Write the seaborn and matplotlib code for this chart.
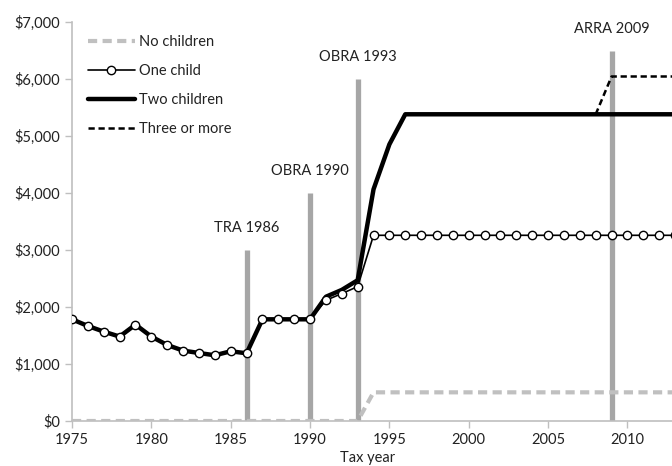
import matplotlib
matplotlib.use("Agg")
import matplotlib.pyplot as plt
import seaborn as sns
import pandas as pd
import numpy as np

sns.set_theme(style="white")
plt.rcParams['font.family'] = ['Lato', 'DejaVu Sans']

years_early = list(range(1975, 1994))
one_early = [1784, 1667, 1568, 1481, 1691, 1481, 1333, 1235, 1193, 1153, 1223, 1188,
             1784, 1784, 1784, 1784, 2118, 2235, 2358]
two_early = [1784, 1667, 1568, 1481, 1691, 1481, 1333, 1235, 1193, 1153, 1223, 1188,
             1784, 1784, 1784, 1784, 2180, 2300, 2470]

years_late = list(range(1994, 2014))
one_late = [3258] * 20
two_late = [4065, 4854] + [5381] * 18

years = years_early + years_late
one_child = one_early + one_late
two_children = two_early + two_late

no_years = years
no_children = [0] * 19 + [503] * 20

three_years = list(range(2008, 2014))
three_more = [5381, 6044, 6044, 6044, 6044, 6044]

events = ["TRA 1986", "OBRA 1990", "OBRA 1993", "ARRA 2009"]
event_years = [1986, 1990, 1993, 2009]
event_tops = [3000, 4000, 6000, 6500]

yticks = [0, 1000, 2000, 3000, 4000, 5000, 6000, 7000]
xticks = [1975, 1980, 1985, 1990, 1995, 2000, 2005, 2010]

fig = plt.figure(figsize=(6.72, 4.66), dpi=100)
ax = fig.add_axes([72/672, 45/466, 1 - 72/672, (421-22)/466])

txt = '#222222'
grey = '#a6a6a6'
fs = 10.5

df_no = pd.DataFrame({"year": no_years, "val": no_children})
df_one = pd.DataFrame({"year": years, "val": one_child})
df_two = pd.DataFrame({"year": years, "val": two_children})
df_three = pd.DataFrame({"year": three_years, "val": three_more})

for yr, top in zip(event_years, event_tops):
    ax.vlines(yr, 0, top, color=grey, lw=3.8, zorder=2)

sns.lineplot(data=df_no, x="year", y="val", ax=ax, color='#c0c0c0', lw=3,
             dashes=False, linestyle=(0, (2.2, 1.3)), label="No children", zorder=3)
sns.lineplot(data=df_two, x="year", y="val", ax=ax, color='black', lw=3.2,
             label="Two children", zorder=4)
sns.lineplot(data=df_one, x="year", y="val", ax=ax, color='black', lw=1.2,
             marker='o', markersize=6, markerfacecolor='white',
             markeredgecolor='black', markeredgewidth=1.0, label="One child", zorder=5)
sns.lineplot(data=df_three, x="year", y="val", ax=ax, color='black', lw=1.8,
             linestyle=(0, (2.5, 1.5)), label="Three or more", zorder=4)

for name, yr, top in zip(events, event_years, event_tops):
    ax.text(yr, top + 380, name, ha='center', va='center', fontsize=fs, color=txt)

ax.set_xlim(1975, 1975 + 600/15.87)
ax.set_ylim(0, 7000)
ax.set_yticks(yticks)
ax.set_yticklabels([f"${v:,}" for v in yticks])
ax.set_xticks(xticks)
ax.set_xticklabels([str(x) for x in xticks])
ax.tick_params(axis='both', labelsize=fs, colors=txt, length=5, width=1, direction='out')
ax.tick_params(axis='both', color='#bfbfbf')
ax.xaxis.set_ticks_position('bottom')
ax.yaxis.set_ticks_position('left')

for s in ['top', 'right']:
    ax.spines[s].set_visible(False)
for s in ['left', 'bottom']:
    ax.spines[s].set_color('#bfbfbf')
    ax.spines[s].set_linewidth(1.2)

ax.set_ylabel("")
ax.set_xlabel("Tax year", fontsize=fs, color=txt)
ax.xaxis.set_label_coords(0.492, -0.075)

handles, labels = ax.get_legend_handles_labels()
order = ["No children", "One child", "Two children", "Three or more"]
hmap = dict(zip(labels, handles))
ax.legend([hmap[o] for o in order], order, loc='upper left', frameon=False,
          fontsize=fs, bbox_to_anchor=(0.005, 1.0), handlelength=3.2,
          labelspacing=1.02, handletextpad=0.3, labelcolor=txt)

fig.savefig("out.png", dpi=100)
